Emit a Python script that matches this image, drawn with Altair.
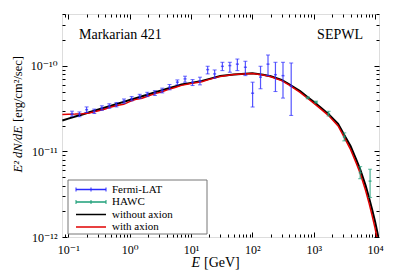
import altair as alt
import pandas as pd

# ---------------- data ----------------
fermi_E = [0.115, 0.152, 0.199, 0.265, 0.353, 0.466, 0.61, 0.81, 1.08, 1.46, 1.94, 2.58, 3.40, 4.47,
           6.0, 8.0, 10.6, 14.0, 18.7, 24.3, 32.5, 43, 57, 77, 101, 136, 180, 238, 316, 430]
fermi_flux = [2.77e-11, 2.72e-11, 3.08e-11, 2.95e-11, 3.22e-11, 3.40e-11, 3.52e-11, 3.88e-11, 4.14e-11,
              4.40e-11, 4.64e-11, 4.82e-11, 5.16e-11, 5.65e-11, 6.46e-11, 7.06e-11, 6.46e-11, 6.63e-11,
              9.06e-11, 8.07e-11, 9.9e-11, 1.01e-10, 1.05e-10, 9.65e-11, 4.8e-11, 7.4e-11, 1.05e-10,
              7.9e-11, 7.7e-11, 5.8e-11]
fermi_lo = [2.59e-11, 2.55e-11, 2.86e-11, 2.78e-11, 3.03e-11, 3.20e-11, 3.32e-11, 3.66e-11, 3.91e-11,
            4.16e-11, 4.38e-11, 4.52e-11, 4.84e-11, 5.26e-11, 6.01e-11, 6.46e-11, 5.90e-11, 6.01e-11,
            8.07e-11, 7.19e-11, 8.82e-11, 8.45e-11, 8.82e-11, 7.71e-11, 3.31e-11, 5.41e-11, 7.71e-11,
            5.02e-11, 4.21e-11, 2.64e-11]
fermi_hi = [2.96e-11, 2.90e-11, 3.32e-11, 3.13e-11, 3.42e-11, 3.61e-11, 3.73e-11, 4.11e-11, 4.38e-11,
            4.66e-11, 4.92e-11, 5.14e-11, 5.50e-11, 6.07e-11, 6.87e-11, 7.59e-11, 6.93e-11, 7.39e-11,
            9.92e-11, 8.98e-11, 1.104e-10, 1.104e-10, 1.205e-10, 1.135e-10, 6.46e-11, 9.92e-11, 1.343e-10,
            1.104e-10, 1.104e-10, 1.083e-10]

hawc_E = [800, 1094, 1750, 3150, 5720, 8300]
hawc_flux = [4.24e-11, 3.78e-11, 2.77e-11, 1.48e-11, 5.65e-12, 4.5e-12]
hawc_lo = [4.13e-11, 3.68e-11, 2.60e-11, 1.33e-11, 4.8e-12, 2.9e-12]
hawc_hi = [4.35e-11, 3.88e-11, 2.95e-11, 1.65e-11, 6.65e-12, 6.2e-12]

curve_E = [0.08, 0.1, 0.13, 0.17, 0.22, 0.3, 0.4, 0.5, 0.65, 0.8, 1.0, 1.3, 1.6, 2.0, 2.6, 3.3, 4.2,
           5.5, 7, 10, 15, 20, 30, 50, 100, 150, 200, 300, 400, 500, 600, 800, 1000, 1300, 1750,
           2500, 3150, 4000, 5000, 5720, 7000, 8000, 9000, 10000, 11000, 11600]
without_axion = [2.30e-11, 2.42e-11, 2.56e-11, 2.71e-11, 2.87e-11, 3.07e-11, 3.27e-11, 3.43e-11, 3.64e-11,
                 3.80e-11, 3.99e-11, 4.22e-11, 4.42e-11, 4.64e-11, 4.92e-11, 5.18e-11, 5.46e-11, 5.76e-11,
                 6.06e-11, 6.34e-11, 6.69e-11, 7.06e-11, 7.61e-11, 7.96e-11, 8.20e-11, 7.87e-11, 7.58e-11,
                 6.88e-11, 6.11e-11, 5.51e-11, 5.07e-11, 4.30e-11, 3.80e-11, 3.27e-11, 2.73e-11,
                 2.10e-11, 1.56e-11, 1.15e-11, 7.87e-12, 6.17e-12, 4.01e-12, 2.86e-12, 2.07e-12,
                 1.52e-12, 1.10e-12, 9.1e-13]
with_axion = [2.71e-11, 2.73e-11, 2.74e-11, 2.77e-11, 2.82e-11, 2.97e-11, 3.14e-11, 3.32e-11, 3.47e-11,
              3.56e-11, 3.83e-11, 4.09e-11, 4.19e-11, 4.46e-11, 4.75e-11, 4.95e-11, 5.29e-11, 5.61e-11,
              5.93e-11, 6.24e-11, 6.52e-11, 6.97e-11, 7.55e-11, 7.92e-11, 8.16e-11, 7.82e-11, 7.49e-11,
              6.73e-11, 5.96e-11, 5.35e-11, 4.92e-11, 4.16e-11, 3.68e-11, 3.15e-11, 2.63e-11,
              1.99e-11, 1.46e-11, 1.05e-11, 7.14e-12, 5.56e-12, 3.52e-12, 2.47e-12, 1.76e-12,
              1.27e-12, 9.05e-13, 7.33e-13]

legend_labels = ["Fermi-LAT", "HAWC", "without axion", "with axion"]
legend_colors = ["#2a2aff", "#1b9e77", "#000000", "#e00000"]

x_major = [0.1, 1, 10, 100, 1000, 10000]
x_major_labels = ["10⁻¹", "10⁰", "10¹", "10²", "10³", "10⁴"]
x_minor = [0.09, 0.2, 0.3, 0.4, 0.5, 0.6, 0.7, 0.8, 0.9, 2, 3, 4, 5, 6, 7, 8, 9,
           20, 30, 40, 50, 60, 70, 80, 90, 200, 300, 400, 500, 600, 700, 800, 900,
           2000, 3000, 4000, 5000, 6000, 7000, 8000, 9000]
y_major = [1e-12, 1e-11, 1e-10]
y_major_labels = ["10⁻¹²", "10⁻¹¹", "10⁻¹⁰"]
y_minor = [2e-12, 3e-12, 4e-12, 5e-12, 6e-12, 7e-12, 8e-12, 9e-12,
           2e-11, 3e-11, 4e-11, 5e-11, 6e-11, 7e-11, 8e-11, 9e-11,
           2e-10, 3e-10, 4e-10]

FONT = "Times New Roman, Liberation Serif, DejaVu Serif, serif"
W, H = 317, 223

fermi_df = pd.DataFrame({"E": fermi_E, "F": fermi_flux, "lo": fermi_lo, "hi": fermi_hi})
hawc_df = pd.DataFrame({"E": hawc_E, "F": hawc_flux, "lo": hawc_lo, "hi": hawc_hi})
curve_df = pd.DataFrame({"E": curve_E, "no": without_axion, "ax": with_axion})

xscale = alt.Scale(type="log", domain=[0.079, 11600])
yscale = alt.Scale(type="log", domain=[1e-12, 4.05e-10])


def label_expr(vals, labs):
    s = ""
    for v, l in zip(vals, labs):
        s += f"datum.value == {v!r} ? '{l}' : "
    return s + "''"


def axis(orient, values, major, labels_on, lexpr=None, pad=11):
    kw = dict(orient=orient, values=values, domain=False, grid=False,
              tickColor="black", tickWidth=1,
              tickSize=alt.ExprRef(expr="-5" if major else "-3"),
              title=None, labels=labels_on)
    if labels_on:
        kw.update(labelExpr=lexpr, labelFont=FONT, labelFontSize=12,
                  labelColor="black", labelPadding=pad)
    return alt.Axis(**kw)


base_empty = alt.Chart(pd.DataFrame({"a": [0]}))


def axis_layer(xax, yax):
    return alt.Chart(curve_df).mark_line(opacity=0).encode(
        x=alt.X("E:Q", scale=xscale, axis=xax),
        y=alt.Y("no:Q", scale=yscale, axis=yax),
    )


ax1 = axis_layer(axis("bottom", x_major, True, True, label_expr(x_major, x_major_labels), pad=12),
                 axis("left", y_major, True, True, label_expr(y_major, y_major_labels), pad=10))
ax2 = axis_layer(axis("top", x_major, True, False), axis("right", y_major, True, False))
ax3 = axis_layer(axis("bottom", x_minor, False, False), axis("left", y_minor, False, False))
ax4 = axis_layer(axis("top", x_minor, False, False), axis("right", y_minor, False, False))

X = alt.X("E:Q", scale=xscale, axis=None)

black_line = alt.Chart(curve_df).mark_line(color="black", strokeWidth=2, clip=True).encode(
    x=X, y=alt.Y("no:Q", scale=yscale, axis=None))
red_line = alt.Chart(curve_df).mark_line(color="#e00000", strokeWidth=1.5, clip=True).encode(
    x=X, y=alt.Y("ax:Q", scale=yscale, axis=None))


def errbars(df, color):
    bars = alt.Chart(df).mark_rule(color=color, strokeWidth=1.2, opacity=0.8).encode(
        x=X, y=alt.Y("lo:Q", scale=yscale, axis=None), y2="hi:Q")
    cap_lo = alt.Chart(df).mark_tick(color=color, orient="horizontal", size=4, thickness=1).encode(
        x=X, y=alt.Y("lo:Q", scale=yscale, axis=None))
    cap_hi = alt.Chart(df).mark_tick(color=color, orient="horizontal", size=4, thickness=1).encode(
        x=X, y=alt.Y("hi:Q", scale=yscale, axis=None))
    mid = alt.Chart(df).mark_tick(color=color, orient="horizontal", size=3, thickness=1.5).encode(
        x=X, y=alt.Y("F:Q", scale=yscale, axis=None))
    return [bars, cap_lo, cap_hi, mid]


fermi_layers = errbars(fermi_df, legend_colors[0])
hawc_layers = errbars(hawc_df, legend_colors[1])

TXT = dict(font=FONT, color="black", baseline="middle")

# annotations
txt_m = base_empty.mark_text(text="Markarian 421", fontSize=14, align="left", **TXT).encode(
    x=alt.value(17), y=alt.value(21))
txt_s = base_empty.mark_text(text="SEPWL", fontSize=14, align="right", **TXT).encode(
    x=alt.value(301), y=alt.value(21))

ytit1 = base_empty.mark_text(text="E² dN/dE", fontSize=12.5, fontStyle="italic",
                             angle=270, align="right", **TXT).encode(
    x=alt.value(-44), y=alt.value(112))
ytit2 = base_empty.mark_text(text="[erg/cm²/sec]", fontSize=12.5,
                             angle=270, align="left", **TXT).encode(
    x=alt.value(-44), y=alt.value(108))
xtit1 = base_empty.mark_text(text="E", fontSize=14, fontStyle="italic", align="right", **TXT).encode(
    x=alt.value(138), y=alt.value(249))
xtit2 = base_empty.mark_text(text="[GeV]", fontSize=14, align="left", **TXT).encode(
    x=alt.value(142), y=alt.value(249))

# legend
leg_layers = [base_empty.mark_rect(fill="white", stroke="#777777", strokeWidth=1).encode(
    x=alt.value(6), x2=alt.value(145), y=alt.value(166), y2=alt.value(220))]
row0, dy = 175.5, 12.5
for i, (lab, col) in enumerate(zip(legend_labels, legend_colors)):
    yc = row0 + i * dy
    leg_layers.append(base_empty.mark_rule(color=col, strokeWidth=1.5).encode(
        x=alt.value(14), x2=alt.value(44), y=alt.value(yc)))
    if i < 2:
        for xc in (14, 29, 44):
            leg_layers.append(base_empty.mark_rule(color=col, strokeWidth=1).encode(
                x=alt.value(xc), y=alt.value(yc - 2), y2=alt.value(yc + 2)))
    leg_layers.append(base_empty.mark_text(text=lab, fontSize=11, align="left", **TXT).encode(
        x=alt.value(50), y=alt.value(yc)))

chart = alt.layer(
    ax1, ax2, ax3, ax4, black_line, red_line, *hawc_layers, *fermi_layers,
    txt_m, txt_s, ytit1, ytit2, xtit1, xtit2, *leg_layers
).properties(
    width=W, height=H,
    autosize=alt.AutoSizeParams(type="none"),
    padding={"left": 54, "top": 6, "right": 12, "bottom": 34},
).configure_view(stroke="black", strokeWidth=1.5).configure(background="white")

chart.save("out.html", embed_options={"renderer": "svg", "actions": False})
